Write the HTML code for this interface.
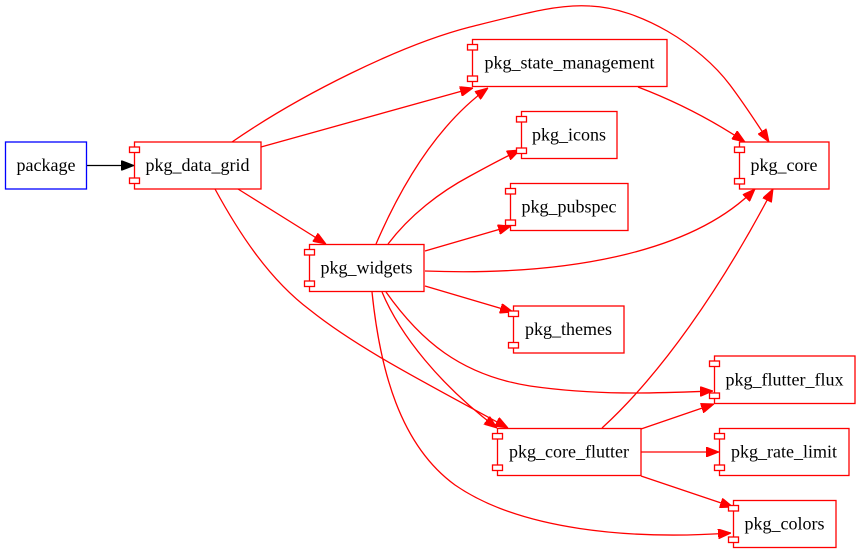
<!DOCTYPE html>
<html><head><meta charset="utf-8"><style>
html,body{margin:0;padding:0;background:#fff;}
svg{display:block;}
text{font-family:"Liberation Serif","Times New Roman",serif;font-size:18px;fill:#000;text-anchor:middle;}
</style></head><body>
<svg width="860" height="554" viewBox="0 0 860 554" xmlns="http://www.w3.org/2000/svg">
<defs>
<marker id="ar" viewBox="0 0 13 10" refX="13" refY="5" markerWidth="13" markerHeight="10" markerUnits="userSpaceOnUse" orient="auto">
<path d="M0,0 L13,5 L0,10 z" fill="#ff0000" stroke="#ff0000" stroke-width="1"/>
</marker>
<marker id="ab" viewBox="0 0 13 10" refX="13" refY="5" markerWidth="13" markerHeight="10" markerUnits="userSpaceOnUse" orient="auto">
<path d="M0,0 L13,5 L0,10 z" fill="#000" stroke="#000" stroke-width="1"/>
</marker>
</defs>
<g fill="none" stroke="#ff0000" stroke-width="1.3" marker-end="url(#ar)">
<path d="M232,142 C300,95 400,45 470,27 C530,12 560,4 590,6 C640,8 700,45 730,85 C745,105 758,125 769,142"/>
<path d="M261,147 L473,88"/>
<path d="M238,189 L326,244"/>
<path d="M215,189 C240,235 270,280 310,310 C360,350 430,385 508,428"/>
<path d="M638,87 C680,103 715,122 745,142"/>
<path d="M376,244 C395,200 430,130 488,88"/>
<path d="M388,244 C410,215 440,192 470,176 C490,165 505,157 520,150"/>
<path d="M425,251 L511,226"/>
<path d="M425,271 C560,276 690,255 755,189"/>
<path d="M425,286 L513,312"/>
<path d="M386,292 C420,340 460,375 530,386 C600,396 660,393 713,391"/>
<path d="M382,292 C400,335 440,385 497,428"/>
<path d="M372,292 C380,370 400,445 455,485 C520,530 630,540 731,533"/>
<path d="M602,428 C660,375 720,290 773,189"/>
<path d="M641,429 L714,404"/>
<path d="M641,452 L719,452"/>
<path d="M641,476 L733,507"/>
</g>
<path d="M87,165.5 L134,165.5" fill="none" stroke="#000" stroke-width="1.3" marker-end="url(#ab)"/>

<rect x="5.5" y="142" width="81" height="47" fill="#fff" stroke="#0000ff" stroke-width="1.3"/>
<text x="46" y="171">package</text>

<g stroke="#ff0000" stroke-width="1.3" fill="#fff">
<rect x="134.5" y="142" width="126.5" height="47"/>
<rect x="129.5" y="147" width="10" height="5.5"/>
<rect x="129.5" y="178" width="10" height="5.5"/>
<rect x="472.5" y="39.5" width="194.5" height="47"/>
<rect x="467.5" y="44.5" width="10" height="5.5"/>
<rect x="467.5" y="76" width="10" height="5.5"/>
<rect x="521.5" y="111.5" width="95.5" height="47"/>
<rect x="516.5" y="116.5" width="10" height="5.5"/>
<rect x="516.5" y="148" width="10" height="5.5"/>
<rect x="510.5" y="183.5" width="117.5" height="47"/>
<rect x="505.5" y="188.5" width="10" height="5.5"/>
<rect x="505.5" y="220" width="10" height="5.5"/>
<rect x="309.5" y="244.5" width="114.5" height="47"/>
<rect x="304.5" y="249.5" width="10" height="5.5"/>
<rect x="304.5" y="281" width="10" height="5.5"/>
<rect x="513.5" y="306" width="110.5" height="47"/>
<rect x="508.5" y="311" width="10" height="5.5"/>
<rect x="508.5" y="342.5" width="10" height="5.5"/>
<rect x="739.5" y="142" width="89.5" height="47"/>
<rect x="734.5" y="147" width="10" height="5.5"/>
<rect x="734.5" y="178.5" width="10" height="5.5"/>
<rect x="714.5" y="356" width="140.5" height="47.5"/>
<rect x="709.5" y="361" width="10" height="5.5"/>
<rect x="709.5" y="393" width="10" height="5.5"/>
<rect x="497.5" y="428.5" width="143.5" height="47"/>
<rect x="492.5" y="433.5" width="10" height="5.5"/>
<rect x="492.5" y="465" width="10" height="5.5"/>
<rect x="719.5" y="428.5" width="129.5" height="47"/>
<rect x="714.5" y="433.5" width="10" height="5.5"/>
<rect x="714.5" y="465" width="10" height="5.5"/>
<rect x="733.5" y="500.5" width="102.5" height="47"/>
<rect x="728.5" y="505.5" width="10" height="5.5"/>
<rect x="728.5" y="537" width="10" height="5.5"/>
</g>

<text x="197.5" y="171">pkg_data_grid</text>
<text x="569.5" y="68.5">pkg_state_management</text>
<text x="569" y="140.5">pkg_icons</text>
<text x="569" y="212.5">pkg_pubspec</text>
<text x="366.5" y="273.5">pkg_widgets</text>
<text x="568.5" y="335">pkg_themes</text>
<text x="784" y="171">pkg_core</text>
<text x="784.5" y="385.5">pkg_flutter_flux</text>
<text x="569" y="457.5">pkg_core_flutter</text>
<text x="784" y="457.5">pkg_rate_limit</text>
<text x="784.5" y="529.5">pkg_colors</text>
</svg>
</body></html>
